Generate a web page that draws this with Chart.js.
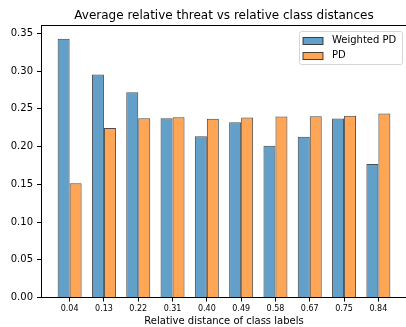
<!DOCTYPE html>
<html>
<head>
<meta charset="utf-8">
<script src="https://cdn.jsdelivr.net/npm/chart.js@4"></script>
<style>
  html, body { margin: 0; padding: 0; background: #fff; overflow: hidden; }
  #wrap { width: 412px; height: 327px; }
</style>
</head>
<body>
<div id="wrap"><canvas id="myChart" width="412" height="327"></canvas></div>
<script>
// Values
const distances = ['0.04', '0.13', '0.22', '0.31', '0.40', '0.49', '0.58', '0.67', '0.75', '0.84'];
const weightedPD = [0.343, 0.2956, 0.272, 0.2376, 0.2137, 0.2323, 0.201, 0.2129, 0.2372, 0.177];
const plainPD = [0.1513, 0.2248, 0.2376, 0.239, 0.2368, 0.2385, 0.2399, 0.2403, 0.2408, 0.2439];
const yTicks = [0, 0.05, 0.10, 0.15, 0.20, 0.25, 0.30, 0.35];
const chartTitle = 'Average relative threat vs relative class distances';

Chart.defaults.font.family = "'DejaVu Sans', sans-serif";
Chart.defaults.color = '#000';

// Title centred on the axes, top spine, and matplotlib-like legend box
const boxLegend = {
    id: 'boxLegend',
    afterDraw(chart) {
        const ctx = chart.ctx;
        const area = chart.chartArea;
        ctx.save();

        ctx.font = "12px 'DejaVu Sans'";
        ctx.fillStyle = '#000';
        ctx.textAlign = 'center';
        ctx.textBaseline = 'middle';
        ctx.fillText(chartTitle, (area.left + area.right) / 2, 15.5);

        ctx.strokeStyle = '#000';
        ctx.lineWidth = 1;
        const yTop = Math.floor(area.top) + 0.5;
        ctx.beginPath();
        ctx.moveTo(Math.floor(area.left), yTop);
        ctx.lineTo(area.right, yTop);
        ctx.stroke();

        const w = 103, h = 33;
        const x = Math.round(area.right - 5 - w) + 0.5;
        const y = Math.round(area.top + 5) + 0.5;
        ctx.beginPath();
        ctx.roundRect(x, y, w, h, 2);
        ctx.fillStyle = 'rgba(255,255,255,0.8)';
        ctx.fill();
        ctx.strokeStyle = '#d6d6d6';
        ctx.stroke();

        ctx.font = "10px 'DejaVu Sans'";
        ctx.textAlign = 'left';
        chart.data.datasets.forEach((ds, i) => {
            const cy = y + 8.5 + i * 15.5;
            ctx.fillStyle = ds.backgroundColor;
            ctx.fillRect(x + 3.5, Math.round(cy - 3.5) + 0.5, 20, 7);
            ctx.strokeStyle = ds.borderColor;
            ctx.strokeRect(x + 3.5, Math.round(cy - 3.5) + 0.5, 20, 7);
            ctx.fillStyle = '#000';
            ctx.fillText(ds.label, x + 32.5, cy);
        });
        ctx.restore();
    }
};

const ctx = document.getElementById('myChart').getContext('2d');
const myChart = new Chart(ctx, {
    type: 'bar',
    data: {
        datasets: [{
            label: 'Weighted PD',
            data: weightedPD.map((v, i) => ({ x: i, y: v })),
            backgroundColor: 'rgba(31,119,180,0.7)',
            borderColor: 'rgba(0,0,0,0.7)',
            borderWidth: 1,
            categoryPercentage: 0.7,
            barPercentage: 1.0
        }, {
            label: 'PD',
            data: plainPD.map((v, i) => ({ x: i, y: v })),
            backgroundColor: 'rgba(255,127,14,0.7)',
            borderColor: 'rgba(0,0,0,0.7)',
            borderWidth: 1,
            categoryPercentage: 0.7,
            barPercentage: 1.0
        }]
    },
    options: {
        responsive: false,
        animation: false,
        events: [],
        layout: { padding: { left: 0, right: 5, top: 25.5, bottom: 0 } },
        plugins: {
            legend: { display: false },
            tooltip: { enabled: false },
            title: { display: false }
        },
        scales: {
            x: {
                type: 'linear',
                offset: false,
                min: -0.835,
                max: 9.835,
                afterBuildTicks: s => { s.ticks = distances.map((_, i) => ({ value: i })); },
                afterFit: s => { s.height = 29.5; },
                grid: { offset: false, drawOnChartArea: false, tickLength: 4, color: '#000' },
                border: { color: '#000', width: 1 },
                ticks: {
                    font: { size: 8 },
                    padding: 3,
                    maxRotation: 0,
                    autoSkip: false,
                    callback: v => distances[v]
                },
                title: {
                    display: true,
                    text: 'Relative distance of class labels',
                    font: { size: 10 },
                    padding: { top: 0, bottom: 0 }
                }
            },
            y: {
                min: 0,
                max: 0.3605,
                afterBuildTicks: s => { s.ticks = yTicks.map(v => ({ value: v })); },
                afterFit: s => { s.width = 41; },
                grid: { drawOnChartArea: false, tickLength: 4, color: '#000' },
                border: { color: '#000', width: 1 },
                ticks: {
                    font: { size: 10 },
                    padding: 4,
                    callback: v => v.toFixed(2)
                }
            }
        }
    },
    plugins: [boxLegend]
});
</script>
</body>
</html>
